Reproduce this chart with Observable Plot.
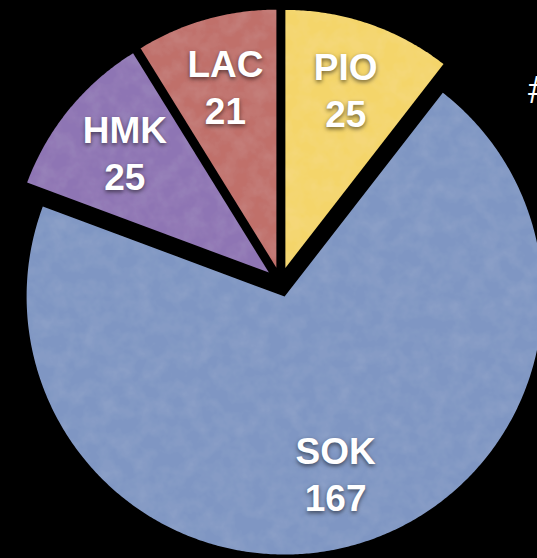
<!DOCTYPE html>
<html><head><meta charset="utf-8">
<script src="https://cdn.jsdelivr.net/npm/d3@7"></script>
<script src="https://cdn.jsdelivr.net/npm/@observablehq/plot@0.6"></script>
<style>
html,body{margin:0;padding:0;background:#000;}
#chart{position:relative;width:537px;height:558px;overflow:hidden;background:#000;}
#chart svg text{text-shadow:0 2px 4px rgba(0,0,0,0.55);}
#title{position:absolute;left:528px;top:71px;color:#fff;font:38px/1 "Liberation Sans",Arial,sans-serif;white-space:nowrap;}
</style></head><body><div id="chart"><div id="title"></div></div>
<script>
const categories = ["PIO", "SOK", "HMK", "LAC"];
const values = [25, 167, 25, 21];
const colors = ["#f4d56a", "#7f96c3", "#8e74b4", "#c0706b"];
const titleText = "#";

const W = 537, H = 558, R = 258, cx = 280, cy = 281.6;
const explode = 15 / R, labelR = 0.722;
const total = d3.sum(values);
let start = 0;
const slices = categories.map((name, i) => {
  const a0 = start, a1 = start + values[i] / total * 2 * Math.PI;
  start = a1;
  return {name, value: values[i], a0, a1, mid: (a0 + a1) / 2};
});
const pts = [];
for (const s of slices) {
  const ox = explode * Math.sin(s.mid), oy = explode * Math.cos(s.mid);
  pts.push({name: s.name, x: ox, y: oy});
  const n = Math.max(2, Math.ceil((s.a1 - s.a0) / (Math.PI / 360)));
  for (let k = 0; k <= n; k++) {
    const a = s.a0 + (s.a1 - s.a0) * k / n;
    pts.push({name: s.name, x: ox + Math.sin(a), y: oy + Math.cos(a)});
  }
}
const labels = slices.map(s => ({
  name: s.name,
  text: `${s.name}\n${s.value}`,
  x: (explode + labelR) * Math.sin(s.mid),
  y: (explode + labelR) * Math.cos(s.mid)
}));

const chart = Plot.plot({
  width: W, height: H,
  margin: 0,
  style: {background: "#000", overflow: "hidden"},
  x: {domain: [-cx / R, (W - cx) / R], range: [0, W], axis: null},
  y: {domain: [(cy - H) / R, cy / R], range: [H, 0], axis: null},
  color: {domain: categories, range: colors},
  marks: [
    Plot.line(pts, {x: "x", y: "y", z: "name", fill: "name", stroke: null, curve: "linear-closed", className: "slices"}),
    Plot.text(labels, {x: "x", y: "y", dy: -3, text: "text", fill: "white", fontSize: 37, fontWeight: "bold",
      fontFamily: "'Liberation Sans', Arial, Helvetica, sans-serif", lineHeight: 1.27, textAnchor: "middle", lineAnchor: "middle"})
  ]
});
// subtle paper-like texture on the slices
const ns = "http://www.w3.org/2000/svg";
const defs = document.createElementNS(ns, "defs");
defs.innerHTML = `<filter id="tex" x="0" y="0" width="100%" height="100%">
  <feTurbulence type="fractalNoise" baseFrequency="0.06" numOctaves="3" seed="7" result="n"/>
  <feColorMatrix in="n" type="matrix" values="0 0 0 0 1  0 0 0 0 1  0 0 0 0 1  0.12 0 0 0 -0.04" result="w"/>
  <feComposite in="w" in2="SourceGraphic" operator="in" result="wt"/>
  <feMerge><feMergeNode in="SourceGraphic"/><feMergeNode in="wt"/></feMerge>
</filter>`;
chart.prepend(defs);
const g = chart.querySelector("g.slices");
if (g) g.setAttribute("filter", "url(#tex)");
document.getElementById("chart").appendChild(chart);
document.getElementById("title").textContent = titleText;
</script>
</body></html>
